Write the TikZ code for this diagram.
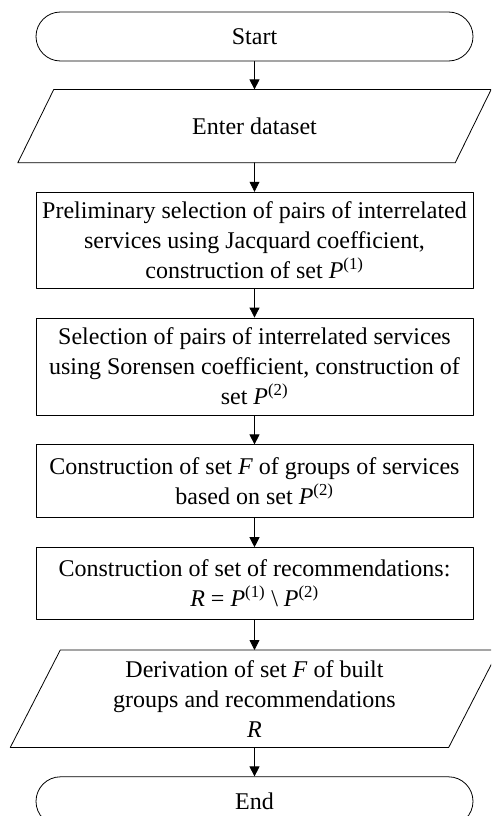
\documentclass[tikz,border=0pt]{standalone}
\usepackage{fontspec}
\setmainfont{Liberation Serif}
\usetikzlibrary{arrows.meta}
\usetikzlibrary{positioning}
\usetikzlibrary{shapes.misc}

\begin{document}
\begin{tikzpicture}[x=1pt,y=1pt,line cap=round,line join=round,node distance=29pt,
terminal/.style={draw,line width=0.8pt,rounded rectangle,minimum width=437pt,minimum height=49pt,inner sep=0pt,font=\fontsize{24}{30}\selectfont},
process/.style={draw,line width=0.8pt,rectangle,minimum width=437pt,inner sep=0pt,align=center,font=\fontsize{24}{30}\selectfont},
io/.style={rectangle,inner sep=0pt,align=center,font=\fontsize{24}{30}\selectfont},
flow/.style={line width=0.8pt,-{Triangle[length=10pt,width=10pt]}}]
\useasboundingbox (0,0) rectangle (491,-816);
\clip (0,0) rectangle (491,-816);
\node[terminal] (start) at (254.5,-36.5) {Start};
\node[io,minimum width=473pt,minimum height=73pt,below=28pt of start] (input) {Enter dataset};
\node[process,minimum height=96pt,below=of input] (jacquard) {Preliminary selection of pairs of interrelated\\services using Jacquard coefficient,\\construction of set \textit{P}\textsuperscript{(1)}};
\node[process,minimum height=97pt,below=of jacquard] (sorensen) {Selection of pairs of interrelated services\\using Sorensen coefficient, construction of\\set \textit{P}\textsuperscript{(2)}};
\node[process,minimum height=73pt,below=of sorensen] (groups) {Construction of set \textit{F} of groups of services\\based on set \textit{P}\textsuperscript{(2)}};
\node[process,minimum height=72pt,below=of groups] (recomm) {Construction of set of recommendations:\\\textit{R} = \textit{P}\textsuperscript{(1)} \textbackslash{} \textit{P}\textsuperscript{(2)}};
\node[io,minimum width=488pt,minimum height=97pt,below=30pt of recomm] (output) {Derivation of set \textit{F} of built\\groups and recommendations\\\textit{R}};
\node[terminal,below=of output] (end) {End};
\draw[line width=0.8pt] ([xshift=36pt]input.north west) -- (input.north east) -- ([xshift=-36pt]input.south east) -- (input.south west) -- cycle;
\draw[line width=0.8pt] ([xshift=50pt]output.north west) -- (output.north east) -- ([xshift=-50pt]output.south east) -- (output.south west) -- cycle;
\draw[flow] (start) -- (input);
\draw[flow] (input) -- (jacquard);
\draw[flow] (jacquard) -- (sorensen);
\draw[flow] (sorensen) -- (groups);
\draw[flow] (groups) -- (recomm);
\draw[flow] (recomm) -- (output);
\draw[flow] (output) -- (end);
\end{tikzpicture}
\end{document}
